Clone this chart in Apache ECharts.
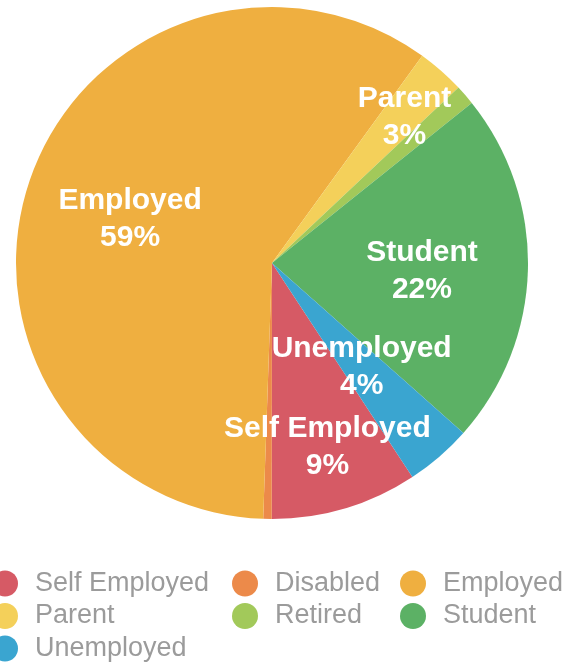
<!DOCTYPE html>
<html>
<head>
<meta charset="utf-8">
<script src="https://cdn.jsdelivr.net/npm/echarts@6/dist/echarts.min.js"></script>
<style>
html, body { margin: 0; padding: 0; background: #fff; }
#main { width: 573px; height: 662px; }
</style>
</head>
<body>
<div id="main"></div>
<script>
var categories = ['Self Employed', 'Disabled', 'Employed', 'Parent', 'Retired', 'Student', 'Unemployed'];
var values = [9.25, 0.53, 59.4, 3.0, 1.26, 22.3, 4.2];
var colors = ['#d65a65', '#ec8a4a', '#efaf40', '#f4d05a', '#a2c95a', '#5cb165', '#3aa5d0'];

// slices too thin to carry a label
var hiddenLabels = ['Disabled', 'Retired'];
// nudges away from the default inside spot
var labelShift = {
    'Self Employed': [18, 59],
    'Employed': [-18, -1],
    'Parent': [46, -47],
    'Student': [19, 5],
    'Unemployed': [4, 5]
};

var font = '"Liberation Sans", Arial, sans-serif';

var myChart = echarts.init(document.getElementById('main'));

var pieData = categories.map(function (name, i) {
    return {
        name: name,
        value: values[i],
        itemStyle: { color: colors[i] },
        label: { show: hiddenLabels.indexOf(name) < 0 }
    };
});

function legendColumn(names, left) {
    return {
        orient: 'vertical',
        left: left,
        top: 570,
        height: 92,
        padding: 0,
        data: names,
        icon: 'circle',
        itemWidth: 26,
        itemHeight: 26,
        itemGap: 5.5,
        selectedMode: false,
        textStyle: {
            fontSize: 27,
            lineHeight: 26,
            color: '#9b9b9b',
            fontFamily: font,
            padding: [0, 0, 0, 12]
        }
    };
}

var option = {
    animation: false,
    backgroundColor: '#fff',
    legend: [
        legendColumn(['Self Employed', 'Parent', 'Unemployed'], -8),
        legendColumn(['Disabled', 'Retired'], 232),
        legendColumn(['Employed', 'Student'], 400)
    ],
    series: [{
        type: 'pie',
        center: [272, 263],
        radius: 256,
        startAngle: 303.26,
        clockwise: true,
        data: pieData,
        label: {
            position: 'inside',
            color: '#fff',
            fontSize: 30,
            fontWeight: 'bold',
            fontFamily: font,
            lineHeight: 37,
            formatter: function (p) {
                return p.name + '\n' + Math.round(p.percent) + '%';
            }
        },
        labelLayout: function (p) {
            var s = labelShift[categories[p.dataIndex]];
            return s ? { dx: s[0], dy: s[1] } : {};
        },
        emphasis: { scale: false }
    }]
};

myChart.setOption(option);
</script>
</body>
</html>
